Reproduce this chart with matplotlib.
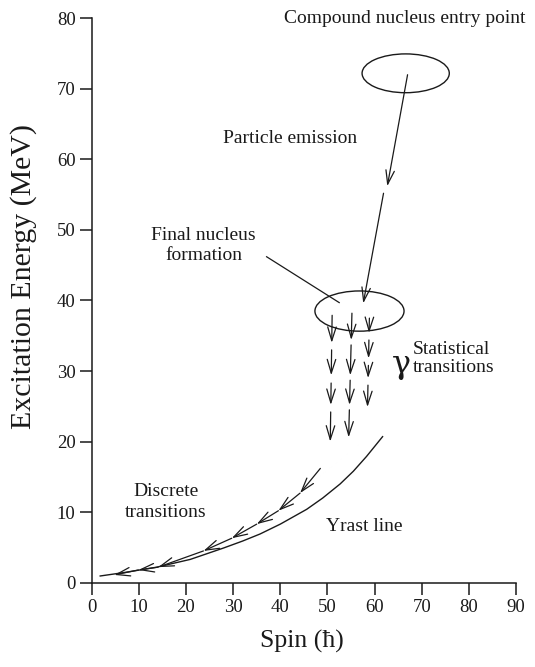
import numpy as np
import matplotlib
matplotlib.use("Agg")
import matplotlib.pyplot as plt
from matplotlib.patches import Ellipse

# ---- data -------------------------------------------------------------
spin_ticks = list(range(0, 91, 10))
energy_ticks = list(range(0, 81, 10))

# yrast line (spin, excitation energy)
yrast_spin = [1.8, 7.0, 13.8, 20.9, 27.9, 32.0, 35.7, 40.0, 45.6, 49.0, 52.7, 55.5, 58.3, 61.7]
yrast_energy = [0.95, 1.45, 2.2, 3.3, 4.9, 5.9, 6.9, 8.3, 10.4, 12.0, 14.0, 15.8, 17.9, 20.7]

# discrete gamma cascade levels along the yrast region
cascade_spin = [48.5, 44.2, 39.6, 35.0, 29.7, 23.7, 14.1, 9.9, 4.8]
cascade_energy = [16.2, 12.7, 10.2, 8.3, 6.3, 4.5, 2.2, 1.8, 1.1]

# compound nucleus and final nucleus regions (centre spin, centre energy, width, height)
compound_region = (66.6, 72.2, 18.5, 5.5)
final_region = (56.8, 38.5, 18.9, 5.7)

# particle emission path
emission_start_spin = [67.0, 61.9]
emission_start_energy = [72.0, 55.2]
emission_end_spin = [62.7, 57.6]
emission_end_energy = [56.2, 39.6]

# statistical gamma cascades: column spin (top, bottom) and arrow energies
stat_spin_top = [51.0, 55.2, 58.9]
stat_spin_bottom = [50.6, 54.5, 58.5]
stat_start_energy = [
    [37.9, 33.0, 28.3, 24.2],
    [38.2, 33.7, 28.7, 24.5],
    [37.5, 34.4, 30.8, 28.0],
]
stat_end_energy = [
    [34.0, 29.4, 25.2, 20.0],
    [34.4, 29.4, 25.2, 20.6],
    [35.4, 31.8, 29.0, 24.9],
]

# leader line for the final-nucleus label
leader_spin = [37.1, 52.5]
leader_energy = [46.2, 39.7]

# ---- figure -----------------------------------------------------------
plt.rcParams["font.family"] = ["Liberation Serif", "DejaVu Serif"]
ink = "#1a1a1a"

fig = plt.figure(figsize=(5.35, 6.67), dpi=100)
ax = fig.add_axes([0.1714, 0.1264, 0.7931, 0.8462])
ax.set_xlim(0, 90)
ax.set_ylim(0, 80)

for side in ("top", "right"):
    ax.spines[side].set_visible(False)
for side in ("left", "bottom"):
    ax.spines[side].set_linewidth(1.1)
    ax.spines[side].set_color(ink)

ax.set_xticks(spin_ticks)
ax.set_yticks(energy_ticks)
ax.tick_params(direction="out", length=8.6, width=1.1, color=ink,
               labelsize=13.5, labelcolor=ink, pad=3)

ax.set_xlabel("Spin (ħ)", fontsize=18.5, color=ink)
ax.set_ylabel("Excitation Energy (MeV)", fontsize=21.5, color=ink)
ax.xaxis.set_label_coords(0.496, -0.083)
ax.yaxis.set_label_coords(-0.128, 0.543)


def arrow(x0, y0, x1, y1, lw=0.9):
    ax.annotate("", xy=(x1, y1), xytext=(x0, y0),
                arrowprops=dict(arrowstyle="->,head_length=0.55,head_width=0.17",
                                lw=lw, color=ink, shrinkA=0, shrinkB=0,
                                mutation_scale=18))


# yrast line
ax.plot(yrast_spin, yrast_energy, color=ink, lw=1.0)

# discrete cascade
for i in range(len(cascade_spin) - 1):
    arrow(cascade_spin[i], cascade_energy[i], cascade_spin[i + 1], cascade_energy[i + 1])

# entry and final regions
for cx, cy, w, h in (compound_region, final_region):
    ax.add_patch(Ellipse((cx, cy), w, h, fill=False, lw=1.0, edgecolor=ink))

# particle emission
for x0, y0, x1, y1 in zip(emission_start_spin, emission_start_energy,
                          emission_end_spin, emission_end_energy):
    arrow(x0, y0, x1, y1)

# statistical cascades
for col in range(len(stat_spin_top)):
    top_e = stat_start_energy[col][0]
    bot_e = stat_end_energy[col][-1]
    for e0, e1 in zip(stat_start_energy[col], stat_end_energy[col]):
        s0 = np.interp(e0, [bot_e, top_e], [stat_spin_bottom[col], stat_spin_top[col]])
        s1 = np.interp(e1, [bot_e, top_e], [stat_spin_bottom[col], stat_spin_top[col]])
        arrow(s0, e0, s1, e1)

# label leader
ax.plot(leader_spin, leader_energy, color=ink, lw=0.9)

# annotations
txt = dict(color=ink, fontsize=14)
ax.text(66.3, 79.9, "Compound nucleus entry point", ha="center", va="center", **txt)
ax.text(42.1, 62.9, "Particle emission", ha="center", va="center", **txt)
ax.text(23.7, 47.8, "Final nucleus\nformation", ha="center", va="center",
        linespacing=1.3, **txt)
ax.text(68.1, 31.8, "Statistical\ntransitions", ha="left", va="center",
        linespacing=1.1, **txt)
ax.text(65.8, 30.9, "γ", ha="center", va="center", color=ink, fontsize=23,
        family=["DejaVu Serif"])
ax.text(15.7, 11.5, "Discrete\ntransitions", ha="center", va="center",
        linespacing=1.3, **txt)
ax.text(57.8, 7.9, "Yrast line", ha="center", va="center", **txt)

fig.savefig("out.png", dpi=100)
